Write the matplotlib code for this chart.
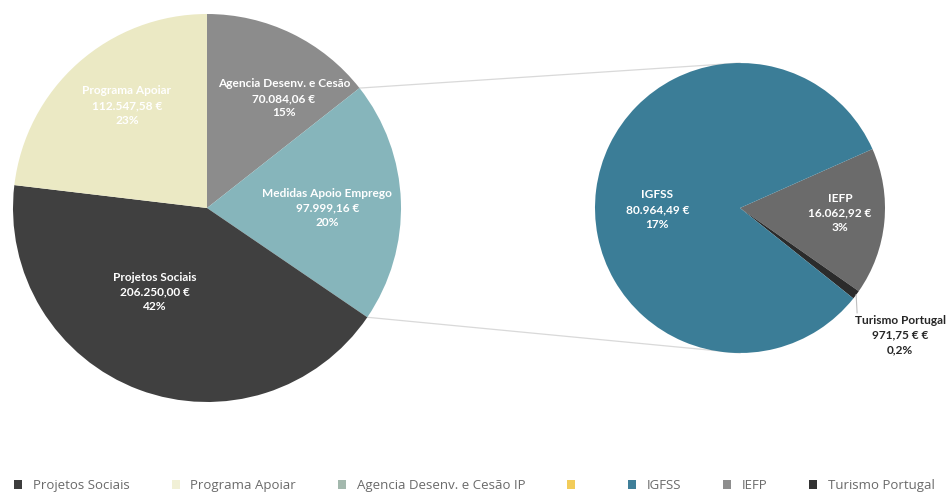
import numpy as np
import matplotlib.pyplot as plt
from matplotlib.patches import Patch

# main pie (clockwise from 12 o'clock)
main_names = ["Agencia Desenv. e Cesão", "Medidas Apoio Emprego", "Projetos Sociais", "Programa Apoiar"]
main_values = [70084.06, 97999.16, 206250.00, 112547.58]
main_pct = ["15%", "20%", "42%", "23%"]

# secondary pie = breakdown of "Medidas Apoio Emprego"
sub_names = ["IEFP", "Turismo Portugal", "IGFSS"]
sub_values = [16062.92, 971.75, 80964.49]
sub_pct = ["3%", "0.2%", "17%"]

legend_names = ["Projetos Sociais", "Programa Apoiar", "Agencia Desenv. e Cesão IP", "",
                "IGFSS", "IEFP", "Turismo Portugal"]
legend_colors = ["#3d3d3d", "#f1f0d6", "#a3b8ad", "#f2cc5a", "#3f7f99", "#8e8e8e", "#333333"]


def euro(v):
    s = f"{v:,.2f}".replace(",", "X").replace(".", ",").replace("X", ".")
    return s + " €"


plt.rcParams["font.family"] = ["Lato", "DejaVu Sans"]

W, H = 949, 501
fig = plt.figure(figsize=(W / 100, H / 100), dpi=100)
ax = fig.add_axes([0, 0, 1, 1])

c1, r1 = (207, 293), 194
c2, r2 = (740, 293), 145

main_colors = ["#8c8c8c", "#86b5bb", "#404040", "#ebe9c4"]
w1, _ = ax.pie(main_values, colors=main_colors, startangle=90, counterclock=False,
               center=c1, radius=r1, frame=True, wedgeprops=dict(linewidth=0))

sub_colors = ["#6b6b6b", "#2b2b2b", "#3b7d97"]
w2, _ = ax.pie(sub_values, colors=sub_colors, startangle=24, counterclock=False,
               center=c2, radius=r2, frame=True, wedgeprops=dict(linewidth=0))
ax.set_xlim(0, W)
ax.set_ylim(0, H)
ax.set_aspect("equal")
ax.axis("off")

# series lines from the split slice to top/bottom of the second pie
split = w1[1]
for ang, target in [(split.theta2, (c2[0], c2[1] + r2)), (split.theta1, (c2[0], c2[1] - r2))]:
    x0 = c1[0] + r1 * np.cos(np.radians(ang))
    y0 = c1[1] + r1 * np.sin(np.radians(ang))
    ax.plot([x0, target[0]], [y0, target[1]], color="#d9d9d9", lw=0.9, zorder=0)

# data labels (radius fraction, angle in degrees)
main_lab_pos = [(0.69, 55), (0.62, 0), (0.51, 238), (0.67, 128)]
for name, v, p, (rf, a) in zip(main_names, main_values, main_pct, main_lab_pos):
    x = c1[0] + rf * r1 * np.cos(np.radians(a))
    y = c1[1] + rf * r1 * np.sin(np.radians(a))
    ax.text(x, y, f"{name}\n{euro(v)}\n{p}", ha="center", va="center", color="white",
            fontsize=8.6, fontweight="bold", linespacing=1.4)

sub_lab_pos = [(0.69, -3), (1.41, -38.4), (0.57, 181)]
for name, v, p, (rf, a) in zip(sub_names, sub_values, sub_pct, sub_lab_pos):
    x = c2[0] + rf * r2 * np.cos(np.radians(a))
    y = c2[1] + rf * r2 * np.sin(np.radians(a))
    inside = rf < 1
    val = euro(v) if inside else euro(v) + " €"
    ax.text(x, y, f"{name}\n{val}\n{p.replace('.', ',')}", ha="center", va="center",
            color="white" if inside else "#262626",
            fontsize=8.6, fontweight="bold", linespacing=1.4)

# leader line for the tiny slice
tw = w2[1]
mid = np.radians((tw.theta1 + tw.theta2) / 2)
lx = c2[0] + r2 * np.cos(mid)
ly = c2[1] + r2 * np.sin(mid)
ax.plot([lx, lx + 1], [ly, ly - 18], color="#bfbfbf", lw=0.8)

handles = [Patch(facecolor=c, edgecolor="none") for c in legend_colors]
fig.legend(handles, legend_names, loc="lower center", ncol=7, frameon=False,
           bbox_to_anchor=(0.5, -0.006), prop={"family": "Open Sans", "size": 9.5},
           labelcolor="#6a6a6a", handlelength=0.6, handleheight=0.6,
           handletextpad=0.8, columnspacing=3.2)

fig.savefig("out.png", dpi=100)
